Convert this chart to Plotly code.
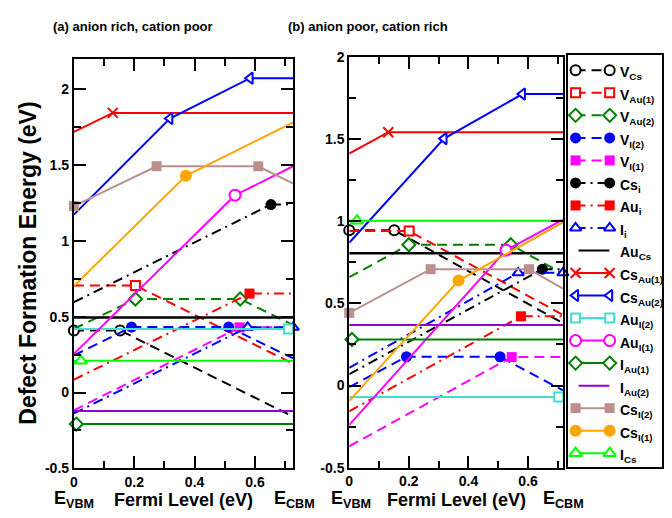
import plotly.graph_objects as go

W, H = 672, 518

# ---------------- series definitions (legend order) ----------------
names = ["V<sub>Cs</sub>", "V<sub>Au(1)</sub>", "V<sub>Au(2)</sub>", "V<sub>I(2)</sub>", "V<sub>I(1)</sub>",
         "Cs<sub>i</sub>", "Au<sub>i</sub>", "I<sub>i</sub>", "Au<sub>Cs</sub>", "Cs<sub>Au(1)</sub>",
         "Cs<sub>Au(2)</sub>", "Au<sub>I(2)</sub>", "Au<sub>I(1)</sub>", "I<sub>Au(1)</sub>", "I<sub>Au(2)</sub>",
         "Cs<sub>I(2)</sub>", "Cs<sub>I(1)</sub>", "I<sub>Cs</sub>"]

# ---------------- panel (a): anion rich, cation poor ----------------
a_x = [
    [0, 0.153, 0.727],            # V_Cs
    [0, 0.204, 0.727],            # V_Au(1)
    [0, 0.204, 0.551, 0.727],     # V_Au(2)
    [0, 0.191, 0.513, 0.727],     # V_I(2)
    [0, 0.549, 0.727],            # V_I(1)
    [0, 0.653, 0.727],            # Cs_i
    [0, 0.582, 0.727],            # Au_i
    [0, 0.576, 0.727],            # I_i
    [0, 0.727],                   # Au_Cs
    [0, 0.129, 0.727],            # Cs_Au(1)
    [0, 0.318, 0.584, 0.727],     # Cs_Au(2)
    [0, 0.711, 0.727],            # Au_I(2)
    [0, 0.534, 0.727],            # Au_I(1)
    [0, 0.008, 0.727],            # I_Au(1)
    [0, 0.727],                   # I_Au(2)
    [0, 0.274, 0.611, 0.727],     # Cs_I(2)
    [0, 0.371, 0.727],            # Cs_I(1)
    [0, 0.023, 0.727],            # I_Cs
]
a_y = [
    [0.41, 0.41, -0.16],
    [0.706, 0.706, 0.19],
    [0.42, 0.617, 0.617, 0.445],
    [0.245, 0.432, 0.432, 0.225],
    [-0.117, 0.43, 0.43],
    [0.596, 1.24, 1.24],
    [0.085, 0.653, 0.653],
    [-0.138, 0.43, 0.43],
    [0.495, 0.495],
    [1.72, 1.845, 1.845],
    [1.174, 1.808, 2.074, 2.074],
    [0.42, 0.42, 0.42],
    [0.255, 1.302, 1.493],
    [-0.208, -0.208, -0.208],
    [-0.121, -0.121],
    [1.23, 1.493, 1.493, 1.378],
    [0.702, 1.43, 1.783],
    [0.209, 0.209, 0.209],
]
a_mk = [[0, 1], [1], [1, 2], [1, 2], [1], [1], [1], [1, 2], [], [1], [1, 2], [1], [1], [1], [],
        [0, 1, 2], [1], [1]]

# ---------------- panel (b): anion poor, cation rich ----------------
b_x = [
    [0, 0.151, 0.717],
    [0, 0.201, 0.717],
    [0, 0.2, 0.542, 0.717],
    [0, 0.192, 0.506, 0.717],
    [0, 0.545, 0.717],
    [0, 0.648, 0.717],
    [0, 0.576, 0.717],
    [0, 0.567, 0.717],
    [0, 0.717],
    [0, 0.131, 0.717],
    [0, 0.318, 0.581, 0.717],
    [0, 0.703, 0.717],
    [0, 0.526, 0.717],
    [0, 0.009, 0.717],
    [0, 0.717],
    [0, 0.273, 0.603, 0.717],
    [0, 0.367, 0.717],
    [0, 0.026, 0.717],
]
b_y = [
    [0.945, 0.945, 0.38],
    [0.94, 0.94, 0.43],
    [0.659, 0.857, 0.857, 0.68],
    [-0.01, 0.175, 0.175, -0.03],
    [-0.37, 0.173, 0.173],
    [0.069, 0.708, 0.708],
    [-0.157, 0.421, 0.421],
    [0.108, 0.686, 0.686],
    [0.805, 0.805],
    [1.412, 1.542, 1.542],
    [0.869, 1.503, 1.774, 1.774],
    [-0.07, -0.07, -0.07],
    [-0.24, 0.824, 1.01],
    [0.28, 0.28, 0.28],
    [0.369, 0.369],
    [0.442, 0.708, 0.708, 0.59],
    [-0.094, 0.639, 0.993],
    [1.003, 1.003, 1.003],
]
b_mk = [[0, 1], [1], [1, 2], [1, 2], [1], [1], [1], [1, 2], [], [1], [1, 2], [1], [1], [1], [],
        [0, 1, 2], [1], [1]]

# tick labels
x_tickvals = [0, 0.2, 0.4, 0.6]
x_ticktext = ["0", "0.2", "0.4", "0.6"]
y_tickvals = [-0.5, 0, 0.5, 1, 1.5, 2]
y_ticktext = ["-0.5", "0", "0.5", "1", "1.5", "2"]

# ---------------- styles ----------------
DASH = "10px,6px"
DASHDOT = "10px,5px,2px,5px"
colors = ["black", "#ff0000", "#008000", "#0000ff", "#ff00ff", "black", "#ff0000", "#0000ff", "black",
          "#ff0000", "#0000ff", "#40e0d0", "#ff00ff", "#008000", "#9400d3", "#bc8f8f", "#ffa500", "#00ff00"]
dashes = [DASH, DASH, DASH, DASH, DASH, DASHDOT, DASHDOT, DASHDOT, "solid", "solid", "solid", "solid",
          "solid", "solid", "solid", "solid", "solid", "solid"]
symbols = ["circle", "square", "diamond", "circle", "square", "circle", "square", "triangle-up", None,
           "x-thin", "triangle-left", "square", "circle", "diamond", None, "square", "circle", "triangle-up"]
filled = [False, False, False, True, True, True, True, False, None, True, False, False, False, False, None,
          True, True, False]
msize = [10, 9, 10, 11, 10, 11, 10, 10, 0, 10, 10, 9, 11, 10, 0, 10, 12, 11]

FONT = "Liberation Sans, Arial, sans-serif"
fig = go.Figure()


def marker_style(i):
    if filled[i]:
        if symbols[i] == "x-thin":
            return dict(symbol="x-thin", size=msize[i], line=dict(color=colors[i], width=2), color=colors[i])
        return dict(symbol=symbols[i], size=msize[i], color=colors[i], line=dict(width=0))
    return dict(symbol=symbols[i], size=msize[i], color="white", line=dict(color=colors[i], width=2))


def add_panel(xs, ys, mks, xa, ya):
    for i in range(len(names)):
        lw = 2.5 if i == 8 else 2
        fig.add_trace(go.Scatter(x=xs[i], y=ys[i], mode="lines", xaxis=xa, yaxis=ya,
                                 line=dict(color=colors[i], width=lw, dash=dashes[i]),
                                 showlegend=False, hoverinfo="skip"))
        if mks[i]:
            fig.add_trace(go.Scatter(x=[xs[i][k] for k in mks[i]], y=[ys[i][k] for k in mks[i]],
                                     mode="markers", xaxis=xa, yaxis=ya, marker=marker_style(i),
                                     cliponaxis=False, showlegend=False, hoverinfo="skip"))


add_panel(a_x, a_y, a_mk, "x", "y")
add_panel(b_x, b_y, b_mk, "x2", "y2")

# ---------------- custom legend (drawn in its own pixel-scaled axes) ----------------
LX0, LX1, LTXT = 7.7, 42.0, 51.5
ROW0, DROW = 15.3, 23.24
for i, nm in enumerate(names):
    yy = ROW0 + i * DROW
    if symbols[i] is None:
        fig.add_trace(go.Scatter(x=[10.7, 41.7], y=[yy, yy], mode="lines", xaxis="x3", yaxis="y3",
                                 line=dict(color=colors[i], width=2), showlegend=False, hoverinfo="skip"))
    else:
        fig.add_trace(go.Scatter(x=[LX0, LX1], y=[yy, yy], mode="lines+markers", xaxis="x3", yaxis="y3",
                                 line=dict(color=colors[i], width=2, dash=dashes[i]), marker=marker_style(i),
                                 cliponaxis=False, showlegend=False, hoverinfo="skip"))
    fig.add_annotation(x=LTXT, y=yy, xref="x3", yref="y3", text="<b>" + nm + "</b>", showarrow=False,
                       xanchor="left", yanchor="middle", yshift=-3, borderpad=0,
                       font=dict(family=FONT, size=14, color="black"))

axis_common = dict(showline=True, linewidth=2, linecolor="black", mirror="ticks", ticks="inside",
                   ticklen=12, tickwidth=2, tickcolor="black", showgrid=False, zeroline=False,
                   tickfont=dict(family=FONT, size=14, color="black", weight="bold"))
xminor = dict(tickmode="linear", tick0=0, dtick=0.1, ticks="inside", ticklen=7, tickwidth=2, tickcolor="black")
yminor = dict(tickmode="linear", tick0=0, dtick=0.25, ticks="inside", ticklen=7, tickwidth=2, tickcolor="black")

fig.update_layout(
    width=W, height=H, margin=dict(l=0, r=0, t=0, b=0),
    paper_bgcolor="white", plot_bgcolor="white", showlegend=False,
    xaxis=dict(domain=[70.3 / W, 291 / W], range=[0, 0.727], anchor="y", tickmode="array",
               tickvals=x_tickvals, ticktext=x_ticktext, minor=xminor, **axis_common),
    yaxis=dict(domain=[1 - 475 / H, 1 - 52.7 / H], range=[-0.5, 2.2], anchor="x", tickmode="array",
               tickvals=y_tickvals, ticktext=y_ticktext, minor=yminor, **axis_common),
    xaxis2=dict(domain=[347.3 / W, 562.3 / W], range=[0, 0.717], anchor="y2", tickmode="array",
                tickvals=x_tickvals, ticktext=x_ticktext, minor=xminor, **axis_common),
    yaxis2=dict(domain=[1 - 474.3 / H, 1 - 50.5 / H], range=[-0.5, 2.0], anchor="x2", tickmode="array",
                tickvals=y_tickvals, ticktext=y_ticktext, minor=yminor, **axis_common),
    xaxis3=dict(domain=[567.3 / W, 661.7 / W], range=[0, 94.4], anchor="y3", showline=True, linewidth=2,
                linecolor="black", mirror=True, ticks="", showticklabels=False, showgrid=False,
                zeroline=False, fixedrange=True),
    yaxis3=dict(domain=[1 - 473.3 / H, 1 - 49 / H], range=[424.3, 0], anchor="x3", showline=True, linewidth=2,
                linecolor="black", mirror=True, ticks="", showticklabels=False, showgrid=False,
                zeroline=False, fixedrange=True),
)


def ann(x, y, text, size, angle=0):
    fig.add_annotation(x=x / W, y=1 - y / H, xref="paper", yref="paper", text="<b>" + text + "</b>",
                       showarrow=False, xanchor="center", yanchor="middle", textangle=angle, borderpad=0,
                       font=dict(family=FONT, size=size, color="black"))


ann(130, 19, "(a) anion rich, cation poor", 13)
ann(366, 19, "(b) anion poor, cation rich", 13)
ann(24, 263, "Defect Formation Energy (eV)", 23, -90)
ann(180.6, 507.5, "Fermi Level (eV)", 18)
ann(454.8, 507.5, "Fermi Level (eV)", 18)
ann(70.5, 507.5, "E<sub>VBM</sub>", 18)
ann(292, 507.5, "E<sub>CBM</sub>", 18)
ann(349, 507.5, "E<sub>VBM</sub>", 18)
ann(563, 507.5, "E<sub>CBM</sub>", 18)

fig.write_html("out.html")
